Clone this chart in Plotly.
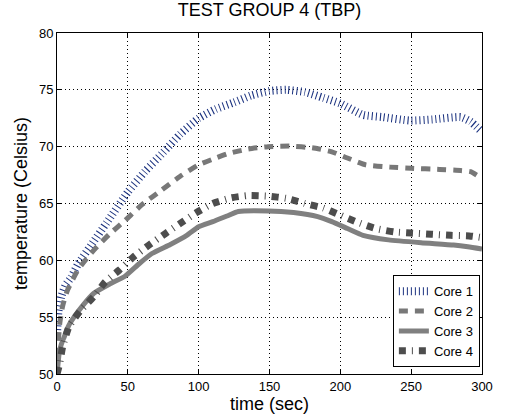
import plotly.graph_objects as go

# ---- data ----
t1 = [0, 1, 3, 6, 10, 15, 25, 35, 50, 62, 75, 87, 100, 112, 125, 137, 150, 162, 175, 188, 200, 216, 230, 249, 265, 285, 292, 300]
c1 = [53.5, 55.5, 56.8, 57.8, 58.5, 59.7, 61.5, 63.3, 66.0, 67.8, 69.5, 71.1, 72.5, 73.3, 73.9, 74.5, 74.9, 75.0, 74.8, 74.3, 73.8, 72.8, 72.6, 72.3, 72.4, 72.6, 72.2, 71.3]

t2 = [0, 1, 2, 4, 7.5, 15, 26, 37, 48, 60, 74, 87, 100, 110, 121, 135, 149, 165, 180, 194, 205, 218, 235, 250, 270, 285, 292, 300]
c2 = [51.5, 53.0, 54.5, 56.0, 57.4, 59.2, 60.9, 62.3, 63.5, 64.9, 66.2, 67.4, 68.4, 68.9, 69.4, 69.8, 70.0, 70.05, 69.9, 69.55, 69.0, 68.4, 68.2, 68.1, 68.0, 67.9, 67.8, 67.2]

t3 = [0, 0.5, 1.5, 3, 5.2, 8, 12, 18, 26, 37, 48, 58, 67, 80, 91.6, 100, 110, 120, 128, 149, 167, 184, 194, 205, 216, 234, 257, 280, 290, 300]
c3 = [50.0, 50.6, 51.8, 52.6, 53.3, 54.2, 55.0, 56.0, 57.1, 57.9, 58.6, 59.7, 60.6, 61.4, 62.2, 62.95, 63.4, 63.9, 64.3, 64.35, 64.2, 63.85, 63.4, 62.8, 62.2, 61.8, 61.55, 61.35, 61.2, 61.0]

t4 = [0, 1.7, 4, 8.6, 16.7, 26, 34, 44, 54, 65, 77, 87, 98.5, 110, 123, 135, 149, 162, 175, 188, 197.5, 211, 225, 238, 250, 264, 278, 291, 300]
c4 = [50.0, 50.8, 52.4, 54.2, 55.6, 56.8, 58.1, 59.15, 60.3, 61.35, 62.4, 63.25, 64.2, 65.0, 65.5, 65.7, 65.65, 65.45, 65.0, 64.6, 64.1, 63.4, 62.8, 62.5, 62.4, 62.3, 62.2, 62.15, 62.0]

names = ["Core 1", "Core 2", "Core 3", "Core 4"]
x_ticks = [0, 50, 100, 150, 200, 250, 300]
y_ticks = [50, 55, 60, 65, 70, 75, 80]

FONT = "Liberation Sans, Arial, sans-serif"

fig = go.Figure()
fig.add_trace(go.Scatter(x=t1, y=c1, mode="lines", name=names[0],
                         line=dict(color="#1c3380", width=8, dash="1px,3px", shape="spline", smoothing=0.5)))
fig.add_trace(go.Scatter(x=t2, y=c2, mode="lines", name=names[1],
                         line=dict(color="#787878", width=5, dash="9px,7px", shape="spline", smoothing=0.5)))
fig.add_trace(go.Scatter(x=t3, y=c3, mode="lines", name=names[2],
                         line=dict(color="#808080", width=5, shape="spline", smoothing=0.5)))
fig.add_trace(go.Scatter(x=t4, y=c4, mode="lines", name=names[3],
                         line=dict(color="#4d4d4d", width=7, dash="7px,6px,1px,6px", shape="spline", smoothing=0.5)))

axis_common = dict(
    showline=True, linecolor="black", linewidth=1, mirror="ticks",
    ticks="inside", ticklen=5, tickcolor="black",
    showgrid=True, gridcolor="black", gridwidth=1, griddash="1px,3px",
    zeroline=False, tickfont=dict(family=FONT, size=13, color="black"),
)

fig.update_xaxes(range=[0, 300], tickvals=x_ticks,
                 title=dict(text="time (sec)", font=dict(family=FONT, size=18, color="black"), standoff=2),
                 **axis_common)
fig.update_yaxes(range=[50, 80], tickvals=y_ticks,
                 title=dict(text="temperature (Celsius)", font=dict(family=FONT, size=18, color="black"), standoff=6),
                 **axis_common)

fig.update_layout(
    width=505, height=420,
    margin=dict(l=57, r=14, t=33, b=46),
    paper_bgcolor="white", plot_bgcolor="white",
    title=dict(text="TEST GROUP 4 (TBP)", xref="paper", x=0.5, xanchor="center",
               yref="container", y=0.992, yanchor="top",
               font=dict(family=FONT, size=18, color="black")),
    legend=dict(x=0.995, y=0.02, xanchor="right", yanchor="bottom",
                bgcolor="white", bordercolor="black", borderwidth=1,
                font=dict(family=FONT, size=13, color="black"),
                tracegroupgap=0, itemwidth=30),
    showlegend=True,
)

fig.write_html("out.html")
